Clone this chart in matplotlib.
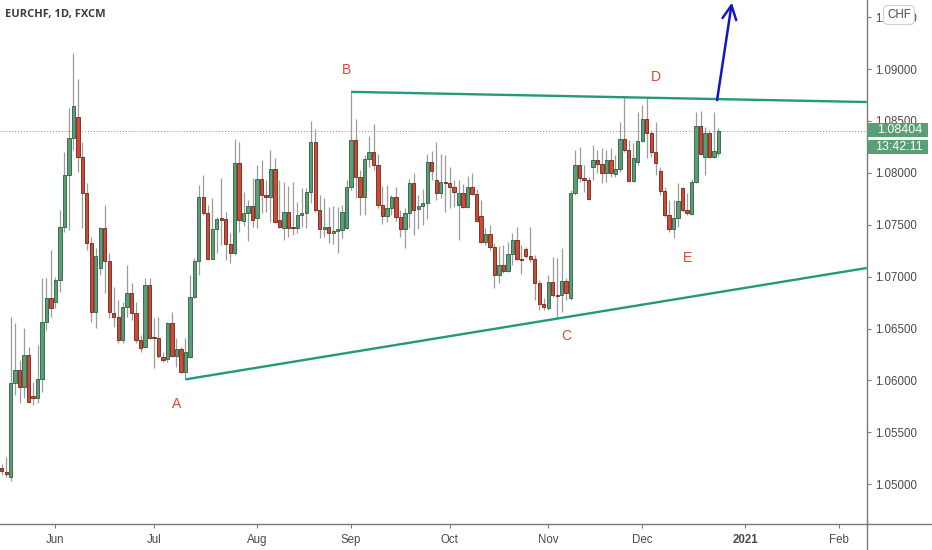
import numpy as np
import matplotlib
matplotlib.use("Agg")
import matplotlib.pyplot as plt
from matplotlib.lines import Line2D
from matplotlib.patches import FancyBboxPatch

plt.rcParams['font.family'] = ['Liberation Sans', 'DejaVu Sans']

# daily EURCHF candles (one per trading day)
opens = [1.05153, 1.05121, 1.05073, 1.05972, 1.06100, 1.05940, 1.06245, 1.05850, 1.05827, 1.06011,
         1.06566, 1.06791, 1.06759, 1.06967, 1.07481, 1.07979, 1.08332, 1.08541, 1.08156, 1.07802,
         1.07321, 1.06662, 1.07086, 1.07465, 1.07150, 1.06653, 1.06608, 1.06389, 1.06710, 1.06839,
         1.06646, 1.06389, 1.06325, 1.06919, 1.06421, 1.06405, 1.06229, 1.06203, 1.06550, 1.06235,
         1.06299, 1.06084, 1.06229, 1.06807, 1.07150, 1.07764, 1.07610, 1.07170, 1.07459, 1.07561,
         1.07552, 1.07311, 1.07224, 1.08098, 1.07539, 1.07610, 1.07680, 1.07561, 1.07940, 1.07786,
         1.07770, 1.08033, 1.07545, 1.07471, 1.07619, 1.07481, 1.07471, 1.07593, 1.07616, 1.07818,
         1.08294, 1.07642, 1.07455, 1.07481, 1.07417, 1.07443, 1.07449, 1.07465, 1.07866, 1.08316,
         1.07956, 1.07770, 1.08130, 1.08204, 1.08075, 1.07690, 1.07584, 1.07658, 1.07764, 1.07571,
         1.07455, 1.07610, 1.07899, 1.07648, 1.07680, 1.07706, 1.08101, 1.07931, 1.07802, 1.07915,
         1.07905, 1.07860, 1.07690, 1.07809, 1.07667, 1.07860, 1.07796, 1.07584, 1.07337, 1.07410,
         1.07282, 1.07015, 1.07112, 1.07057, 1.07218, 1.07353, 1.07173, 1.07263, 1.07198, 1.07166,
         1.06935, 1.06736, 1.06694, 1.06945, 1.06823, 1.06823, 1.06958, 1.06791, 1.07802, 1.08075,
         1.07953, 1.07931, 1.08053, 1.08123, 1.08082, 1.07995, 1.08123, 1.07988, 1.08033, 1.08322,
         1.08220, 1.07924, 1.08107, 1.08306, 1.08515, 1.08380, 1.08204, 1.08021, 1.07828, 1.07593,
         1.07455, 1.07561, 1.07850, 1.07642, 1.07603, 1.07915, 1.08451, 1.08149, 1.08387, 1.08155,
         1.08194]
highs = [1.05195, 1.05265, 1.06614, 1.06550, 1.06197, 1.06502, 1.06325, 1.05988, 1.06341, 1.06983,
         1.06983, 1.07256, 1.07000, 1.07642, 1.08204, 1.08621, 1.09157, 1.08900, 1.08300, 1.07905,
         1.07385, 1.07272, 1.07481, 1.07690, 1.07224, 1.06903, 1.06775, 1.06759, 1.07112, 1.06935,
         1.06759, 1.06437, 1.06983, 1.06990, 1.06598, 1.06614, 1.06277, 1.06566, 1.06662, 1.06405,
         1.06325, 1.06405, 1.07016, 1.07176, 1.07882, 1.07979, 1.07690, 1.07761, 1.07577, 1.07947,
         1.07626, 1.07417, 1.08330, 1.08300, 1.07818, 1.07738, 1.07947, 1.08075, 1.08123, 1.07931,
         1.08220, 1.08139, 1.07931, 1.07915, 1.07873, 1.07915, 1.07722, 1.07850, 1.07850, 1.08499,
         1.08419, 1.07786, 1.07754, 1.07674, 1.07680, 1.07674, 1.07690, 1.07931, 1.08782, 1.08515,
         1.08027, 1.08172, 1.08355, 1.08470, 1.08181, 1.07873, 1.07882, 1.07786, 1.07860, 1.07642,
         1.07658, 1.07937, 1.07995, 1.07786, 1.07841, 1.08181, 1.08213, 1.08300, 1.08181, 1.08172,
         1.08059, 1.07931, 1.07931, 1.07892, 1.07969, 1.08001, 1.07841, 1.07738, 1.07465, 1.07497,
         1.07321, 1.07295, 1.07304, 1.07337, 1.07417, 1.07481, 1.07304, 1.07288, 1.07481, 1.07208,
         1.06967, 1.06791, 1.07015, 1.07192, 1.07176, 1.07272, 1.06983, 1.07834, 1.08220, 1.08252,
         1.08075, 1.07963, 1.08268, 1.08220, 1.08236, 1.08220, 1.08236, 1.08172, 1.08493, 1.08727,
         1.08316, 1.08284, 1.08589, 1.08653, 1.08717, 1.08412, 1.08493, 1.08059, 1.07866, 1.07738,
         1.07738, 1.07899, 1.07866, 1.07802, 1.07937, 1.08589, 1.08599, 1.08444, 1.08412, 1.08589,
         1.08428]
lows = [1.05089, 1.05073, 1.05034, 1.05860, 1.05779, 1.05827, 1.05779, 1.05763, 1.05779, 1.05892,
        1.06486, 1.06614, 1.06694, 1.06855, 1.07433, 1.07449, 1.08220, 1.08011, 1.07465, 1.07256,
        1.06566, 1.06502, 1.07016, 1.06839, 1.06598, 1.06518, 1.06357, 1.06357, 1.06614, 1.06582,
        1.06357, 1.06277, 1.06309, 1.06396, 1.06116, 1.06213, 1.06181, 1.06181, 1.06222, 1.06132,
        1.06074, 1.06010, 1.06213, 1.06791, 1.07016, 1.07594, 1.07160, 1.07166, 1.07224, 1.07304,
        1.07160, 1.07128, 1.07208, 1.07433, 1.07488, 1.07346, 1.07481, 1.07465, 1.07610, 1.07626,
        1.07529, 1.07520, 1.07465, 1.07353, 1.07385, 1.07401, 1.07417, 1.07481, 1.07465, 1.07706,
        1.07626, 1.07369, 1.07385, 1.07321, 1.07311, 1.07224, 1.07369, 1.07455, 1.07834, 1.07754,
        1.07593, 1.07593, 1.08059, 1.08027, 1.07658, 1.07507, 1.07529, 1.07593, 1.07539, 1.07385,
        1.07272, 1.07465, 1.07401, 1.07459, 1.07497, 1.07552, 1.07931, 1.07738, 1.07754, 1.07626,
        1.07658, 1.07674, 1.07353, 1.07658, 1.07658, 1.07786, 1.07529, 1.07327, 1.07304, 1.07256,
        1.06887, 1.06935, 1.07031, 1.07048, 1.07112, 1.07160, 1.07025, 1.07176, 1.07144, 1.06775,
        1.06678, 1.06678, 1.06678, 1.06807, 1.06598, 1.06662, 1.06775, 1.06775, 1.07786, 1.07915,
        1.07818, 1.07738, 1.07931, 1.07995, 1.07899, 1.07915, 1.07963, 1.07963, 1.08011, 1.08204,
        1.07915, 1.07915, 1.08075, 1.08300, 1.08139, 1.08155, 1.07979, 1.07786, 1.07577, 1.07433,
        1.07369, 1.07481, 1.07626, 1.07593, 1.07593, 1.07899, 1.08172, 1.07979, 1.08139, 1.08139,
        1.08162]
closes = [1.05127, 1.05098, 1.05972, 1.06100, 1.05940, 1.06245, 1.05795, 1.05827, 1.06011, 1.06566,
          1.06791, 1.06694, 1.06967, 1.07481, 1.07979, 1.08332, 1.08644, 1.08156, 1.07802, 1.07321,
          1.06662, 1.07199, 1.07465, 1.07150, 1.06662, 1.06608, 1.06389, 1.06710, 1.06839, 1.06646,
          1.06389, 1.06309, 1.06919, 1.06405, 1.06405, 1.06235, 1.06197, 1.06550, 1.06235, 1.06299,
          1.06084, 1.06277, 1.06807, 1.07150, 1.07764, 1.07610, 1.07170, 1.07459, 1.07555, 1.07545,
          1.07311, 1.07224, 1.08098, 1.07545, 1.07610, 1.07680, 1.07545, 1.07937, 1.07786, 1.07770,
          1.08033, 1.07529, 1.07475, 1.07619, 1.07471, 1.07465, 1.07593, 1.07616, 1.07818, 1.08294,
          1.07642, 1.07455, 1.07481, 1.07417, 1.07443, 1.07455, 1.07626, 1.07866, 1.08316, 1.07956,
          1.07770, 1.08130, 1.08204, 1.08075, 1.07690, 1.07584, 1.07658, 1.07764, 1.07571, 1.07455,
          1.07610, 1.07899, 1.07642, 1.07680, 1.07706, 1.08101, 1.08021, 1.07802, 1.07915, 1.07899,
          1.07860, 1.07812, 1.07802, 1.07667, 1.07860, 1.07796, 1.07539, 1.07337, 1.07410, 1.07282,
          1.07015, 1.07112, 1.07057, 1.07218, 1.07353, 1.07166, 1.07160, 1.07198, 1.07166, 1.06935,
          1.06736, 1.06704, 1.06945, 1.06823, 1.06816, 1.06958, 1.06845, 1.07802, 1.08075, 1.07953,
          1.07931, 1.07744, 1.08123, 1.08082, 1.07995, 1.08123, 1.08001, 1.08033, 1.08322, 1.08220,
          1.07924, 1.08139, 1.08306, 1.08515, 1.08380, 1.08204, 1.08091, 1.07828, 1.07593, 1.07455,
          1.07561, 1.07732, 1.07642, 1.07610, 1.07915, 1.08451, 1.08181, 1.08387, 1.08155, 1.08213,
          1.08404]

# month ticks (bar index of the first trading day)
month_pos = [12, 34, 57, 78, 100, 122, 143, 166, 187]
month_labels = ['Jun', 'Jul', 'Aug', 'Sep', 'Oct', 'Nov', 'Dec', '2021', 'Feb']
price_ticks = [1.050, 1.055, 1.060, 1.065, 1.070, 1.075, 1.080, 1.085, 1.090, 1.095]

# triangle lines (bar index, price)
lower_line = [(41, 1.0601), (193.1, 1.07083)]
upper_line = [(78, 1.0878), (193.1, 1.08682)]
breakout = [(159.7, 1.0870), (163.0, 1.0964)]

# wave labels
wave_names = ['A', 'B', 'C', 'D', 'E']
wave_x = [39.1, 76.9, 126.0, 146.0, 153.0]
wave_y = [1.05773, 1.08990, 1.06428, 1.08923, 1.07179]

last_price = 1.08404
countdown = '13:42:11'

GREEN = '#5a9e76'
GREEN_EDGE = '#2d5e44'
RED = '#cf4a36'
RED_EDGE = '#6e2519'
WICK = '#9c9c9c'
TEAL = '#22997c'
AXCOL = '#7a7a7a'
TXT = '#4a4a4a'


def draw_candles(ax):
    o = np.array(opens)
    c = np.array(closes)
    idx = np.arange(len(o))
    up = c >= o
    ax.vlines(idx, lows, highs, color=WICK, lw=0.9, zorder=2)
    ax.bar(idx[up], (c - o)[up], bottom=o[up], width=0.74,
           color=GREEN, edgecolor=GREEN_EDGE, linewidth=0.6, zorder=3)
    ax.bar(idx[~up], (o - c)[~up], bottom=c[~up], width=0.74,
           color=RED, edgecolor=RED_EDGE, linewidth=0.6, zorder=3)


fig = plt.figure(figsize=(9.32, 5.5), dpi=100)
ax_l, ax_b = 0.0, 25.7 / 550
ax_w, ax_h = 866.7 / 932, 524.3 / 550
ax = fig.add_axes([ax_l, ax_b, ax_w, ax_h])

draw_candles(ax)

for line in (lower_line, upper_line):
    xs, ys = zip(*line)
    ax.plot(xs, ys, color=TEAL, lw=1.7, zorder=4, solid_capstyle='butt')

ax.annotate('', xy=breakout[1], xytext=breakout[0],
            arrowprops=dict(arrowstyle='->,head_length=1.0,head_width=0.5',
                            color='#1515c8', lw=1.8, shrinkA=0, shrinkB=0),
            annotation_clip=False, zorder=5)

for name, wx, wy in zip(wave_names, wave_x, wave_y):
    ax.text(wx, wy, name, color='#e0473c', fontsize=10, ha='center', va='center', zorder=5)

ax.axhline(last_price, color='#8c8c8c', lw=0.7, ls=(0, (1, 2)), zorder=1)

ax.set_xlim(-0.38, 193.1)
ax.set_ylim(1.04614, 1.09665)

for s in ['top', 'left']:
    ax.spines[s].set_visible(False)
for s in ['right', 'bottom']:
    ax.spines[s].set_color(AXCOL)
    ax.spines[s].set_linewidth(1.0)

ax.yaxis.tick_right()
ax.set_yticks(price_ticks)
ax.set_yticklabels([f'{p:.5f}' for p in price_ticks])
ax.set_xticks(month_pos)
ax.set_xticklabels(month_labels)
ax.get_xticklabels()[month_labels.index('2021')].set_fontweight('bold')
ax.tick_params(axis='both', direction='out', length=3, width=0.8, color=AXCOL,
               labelsize=8.3, labelcolor=TXT)
ax.tick_params(axis='x', pad=4)
ax.tick_params(axis='y', pad=3)

# axis lines run on past the plot corner
fig.add_artist(Line2D([ax_w, 1], [ax_b, ax_b], color=AXCOL, lw=1.0))
fig.add_artist(Line2D([ax_w, ax_w], [0, ax_b], color=AXCOL, lw=1.0))

# price / countdown labels on the scale
box_x0, box_x1 = 867 / 932, 928 / 932
for y0, y1, txt in [(122.7, 136.7, f'{last_price:.5f}'), (140, 154, countdown)]:
    fig.add_artist(FancyBboxPatch((box_x0, 1 - y1 / 550), box_x1 - box_x0, (y1 - y0) / 550,
                                  boxstyle='square,pad=0', fc=GREEN, ec='none', zorder=10))
    fig.text((box_x0 + box_x1) / 2 + 0.002, 1 - (y0 + y1) / 2 / 550, txt, color='white',
             fontsize=9, ha='center', va='center', zorder=11)

fig.text(899 / 932, 1 - 15 / 550, 'CHF', color=TXT, fontsize=8.3, ha='center', va='center', zorder=12,
         bbox=dict(boxstyle='round,pad=0.3,rounding_size=0.4', fc='white', ec='#cfcfcf', lw=0.8))

fig.text(5 / 932, 1 - 15 / 550, 'EURCHF, 1D, FXCM', fontsize=8, fontweight='bold', color='#3c3c3c',
         family=['Open Sans', 'DejaVu Sans'], ha='left', va='center')

fig.savefig('out.png', dpi=100, facecolor='white')
